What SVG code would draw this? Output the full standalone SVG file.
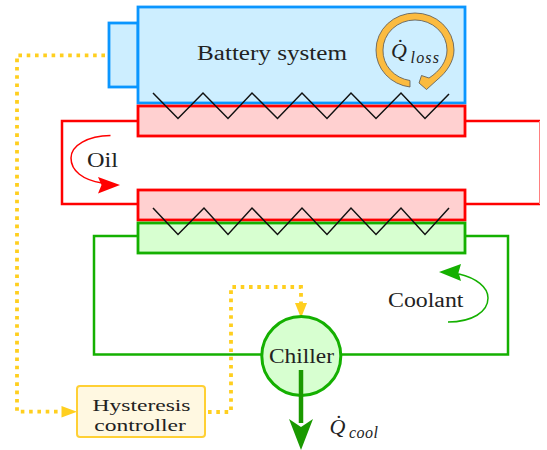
<svg xmlns="http://www.w3.org/2000/svg" width="547" height="450" viewBox="0 0 547 450">
<style>
text{font-family:"Liberation Serif","Times New Roman",serif;fill:#222;font-size:20px}
.q{font-style:italic;font-size:22px}
.s{font-style:italic;font-size:16px}
.c{font-size:17.500px}
.blue{fill:#cdeeff;stroke:#0a96ff;stroke-width:2.800}
.red{fill:#ffd0d0;stroke:#ff0000;stroke-width:2.800}
.green{fill:#d7ffd0;stroke:#14b000;stroke-width:2.800}
.wire-r{fill:none;stroke:#ff0000;stroke-width:2.500}
.wire-g{fill:none;stroke:#14b000;stroke-width:2.500}
.zig{fill:none;stroke:#111;stroke-width:1.500}
.dot{fill:none;stroke:#ffcf1f;stroke-width:3.800;stroke-dasharray:3.600 4.700}
</style>
<rect width="547" height="450" fill="#fff"/>
<g id="connectors">
<path class="wire-r" d="M138 121H62V204H138"/>
<path class="wire-r" d="M465 121H540M540 204H465"/>
<path d="M539.500 121V204" fill="none" stroke="#ff8080" stroke-width="1"/>
<path class="wire-g" d="M138 236H94V354.500H261M341 354.500H508V236H465"/>
<path class="dot" d="M105 55.300H17V411.700H64"/>
<path d="M77 411.700L61.500 406V417.500Z" fill="#ffcf1f"/>
<path class="dot" d="M208 412H231V287H301V306"/>
<path d="M301 318L295 303H307Z" fill="#ffcf1f"/>
<path d="M110.500 135.500C88 136 71 145 71 158C71 171 83 180 102 183" fill="none" stroke="#ff0000" stroke-width="1.500"/>
<path d="M120 185L98 177L101.500 185L98 193.500Z" fill="#ff0000"/>
<path d="M448 322C472 322 488 312 488 298C488 287 476 278 459 274" fill="none" stroke="#14b000" stroke-width="1.500"/>
<path d="M439 272L461 264L458.500 272.500L461 281Z" fill="#14b000"/>
</g>
<g id="battery">
<rect class="blue" x="109" y="23" width="29" height="64"/>
<rect class="blue" x="138" y="7" width="327" height="96"/>
<text x="197" y="60" textLength="150" lengthAdjust="spacingAndGlyphs">Battery system</text>
</g>
<g id="oil-top"><rect class="red" x="138" y="106" width="327" height="30"/></g>
<g id="oil-bottom"><rect class="red" x="138" y="190" width="327" height="30"/></g>
<g id="coolant-plate"><rect class="green" x="138" y="223" width="327" height="30"/></g>
<g id="heat-top"><path class="zig" d="M153 93L178 118.500L203 93L228 118.500L252 93L277.500 118.500L302 93L327 118.500L351 93L376 118.500L401 93L425 118.500L449 94"/></g>
<g id="heat-bottom"><path class="zig" d="M153 208L178 234.500L204 208L228 234.500L252 208L277.500 234.500L302 208L327 234.500L351 208L376 234.500L401 208L425 234.500L449 208"/></g>
<g id="loss">
<path d="M410 87A39 37 0 0 1 376 50A39 37 0 0 1 415 13A39 37 0 0 1 454 50C454 61 447 72 437 80L426.500 89.500L419 83L421.500 75.500L429 78C440 71 447 61 447 50A32 30 0 0 0 415 20A32 30 0 0 0 383 50A32 30 0 0 0 410 80.500Z" fill="#fbbb40" stroke="#555" stroke-width="0.800" stroke-linejoin="round"/>
<text x="391" y="58" class="q">Q&#775;</text>
<text x="410.500" y="63" class="s" textLength="28.500" lengthAdjust="spacing">loss</text>
</g>
<g id="oil-label"><text x="87" y="167" textLength="31" lengthAdjust="spacingAndGlyphs">Oil</text></g>
<g id="coolant-label"><text x="388" y="307" textLength="75.500" lengthAdjust="spacingAndGlyphs">Coolant</text></g>
<g id="chiller">
<circle class="green" cx="301.300" cy="356" r="39.500" style="stroke-width:3"/>
<text x="269" y="363" textLength="65" lengthAdjust="spacingAndGlyphs">Chiller</text>
<path d="M301 370V423" fill="none" stroke="#1a9900" stroke-width="4.500"/>
<path d="M301 450L289 419L301 427L313 419Z" fill="#1a9900"/>
</g>
<g id="cool-label">
<text x="329.500" y="433.500" class="q">Q&#775;</text>
<text x="349" y="438" class="s" textLength="29" lengthAdjust="spacing">cool</text>
</g>
<g id="controller">
<rect x="77" y="386" width="128" height="51" rx="3" fill="#fff8e1" stroke="#ffd034" stroke-width="2"/>
<text x="92.500" y="410.500" class="c" textLength="98" lengthAdjust="spacingAndGlyphs">Hysteresis</text>
<text x="94.300" y="430.500" class="c" textLength="91.500" lengthAdjust="spacingAndGlyphs">controller</text>
</g>
</svg>
